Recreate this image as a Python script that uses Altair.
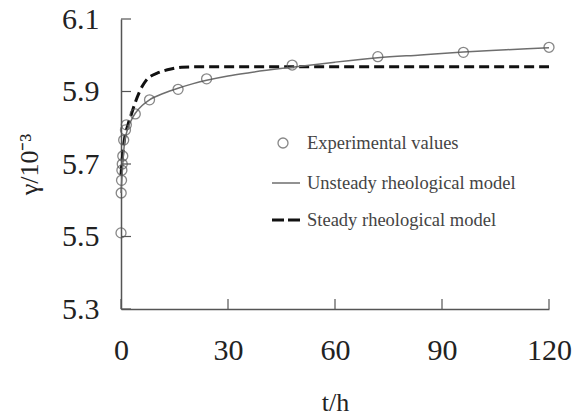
import altair as alt
import pandas as pd

# Experimental creep strain measurements (gamma in units of 1e-3) over time t (h)
exp_t = [0, 0.05, 0.15, 0.25, 0.35, 0.5, 0.75, 1.25, 1.5, 4, 8, 16, 24, 48, 72, 96, 120]
exp_y = [5.51, 5.62, 5.655, 5.683, 5.70, 5.722, 5.766, 5.794, 5.808, 5.838, 5.877,
         5.906, 5.935, 5.973, 5.996, 6.008, 6.022]

# Unsteady rheological model curve
uns_t = [0, 0.5, 1, 2, 3, 4, 6, 8, 12, 16, 20, 24, 30, 36, 48, 60, 72, 84, 96, 108, 120]
uns_y = [5.62, 5.70, 5.76, 5.80, 5.823, 5.84, 5.862, 5.877, 5.895, 5.909, 5.921, 5.931,
         5.943, 5.952, 5.967, 5.981, 5.993, 6.001, 6.009, 6.015, 6.021]

# Steady rheological model curve
std_t = [0, 0.5, 1, 2, 3, 4, 5, 6, 7, 8, 10, 12, 14, 17, 20, 120]
std_y = [5.67, 5.73, 5.77, 5.81, 5.84, 5.87, 5.895, 5.915, 5.93, 5.94, 5.95, 5.957,
         5.962, 5.967, 5.968, 5.968]

x_ticks = [0, 30, 60, 90, 120]
y_ticks = [5.3, 5.5, 5.7, 5.9, 6.1]

legend_labels = ["Experimental values", "Unsteady rheological model", "Steady rheological model"]

W, H = 428, 290
FONT = "Liberation Serif"

exp_df = pd.DataFrame({"t": exp_t, "y": exp_y})
uns_df = pd.DataFrame({"t": uns_t, "y": uns_y})
std_df = pd.DataFrame({"t": std_t, "y": std_y})

xs = alt.Scale(domain=[0, 120], nice=False, zero=False)
ys = alt.Scale(domain=[5.3, 6.1], nice=False, zero=False)

x_axis = alt.Axis(values=x_ticks, format="d", title="t/h", ticks=False, grid=False,
                  labelFlush=False, labelPadding=26, titlePadding=24, titleFontSize=26)
y_axis = alt.Axis(values=y_ticks, format=".1f", title="γ/10⁻³", ticks=False, grid=False,
                  labelFlush=False, labelPadding=22, titlePadding=19, titleFontSize=26)

X = alt.X("t:Q", scale=xs, axis=x_axis)
Y = alt.Y("y:Q", scale=ys, axis=y_axis)

steady = alt.Chart(std_df).mark_line(
    color="#111111", strokeWidth=3, strokeDash=[10, 5], interpolate="monotone"
).encode(x=X, y=Y)

unsteady = alt.Chart(uns_df).mark_line(
    color="#6e6e6e", strokeWidth=1.5, interpolate="monotone"
).encode(x=alt.X("t:Q", scale=xs), y=alt.Y("y:Q", scale=ys))

points = alt.Chart(exp_df).mark_point(
    shape="circle", filled=False, size=100, color="#555555", strokeWidth=1.3
).encode(x=alt.X("t:Q", scale=xs), y=alt.Y("y:Q", scale=ys))

# Inward-pointing tick marks on both axes
xt = alt.Chart(pd.DataFrame({"t": x_ticks})).mark_rule(color="#555555", strokeWidth=1.2).encode(
    x=alt.X("t:Q", scale=xs), y=alt.value(H), y2=alt.value(H - 10))
yt = alt.Chart(pd.DataFrame({"y": y_ticks})).mark_rule(color="#555555", strokeWidth=1.2).encode(
    y=alt.Y("y:Q", scale=ys), x=alt.value(0), x2=alt.value(10))

# Legend block
leg_pt = alt.Chart(pd.DataFrame({"k": [0]})).mark_point(
    shape="circle", filled=False, size=100, color="#555555", strokeWidth=1.3
).encode(x=alt.value(162), y=alt.value(124))
leg_solid = alt.Chart(pd.DataFrame({"k": [0]})).mark_rule(
    color="#6e6e6e", strokeWidth=1.5
).encode(x=alt.value(151), x2=alt.value(179), y=alt.value(164))
leg_dash = alt.Chart(pd.DataFrame({"k": [0]})).mark_rule(
    color="#111111", strokeWidth=3, strokeDash=[12, 4]
).encode(x=alt.value(151), x2=alt.value(179), y=alt.value(201))
leg_text = alt.Chart(pd.DataFrame({"label": legend_labels, "yy": [124, 164, 201]})).mark_text(
    align="left", baseline="middle", font=FONT, fontSize=18.5, color="#444444"
).encode(x=alt.value(186), y=alt.Y("yy:Q", scale=None), text="label:N")

chart = alt.layer(
    steady, unsteady, points, xt, yt, leg_pt, leg_solid, leg_dash, leg_text
).properties(
    width=W, height=H,
    autosize=alt.AutoSizeParams(type="none"),
    padding={"left": 121, "top": 19, "right": 27, "bottom": 110},
).configure_view(stroke="transparent").configure_axis(
    domainColor="#555555", domainWidth=1.5,
    labelFont=FONT, labelFontSize=30, labelColor="#222222",
    titleFont=FONT, titleFontWeight="normal", titleColor="#222222",
)

chart.save("out.html", embed_options={"renderer": "svg", "actions": False})
